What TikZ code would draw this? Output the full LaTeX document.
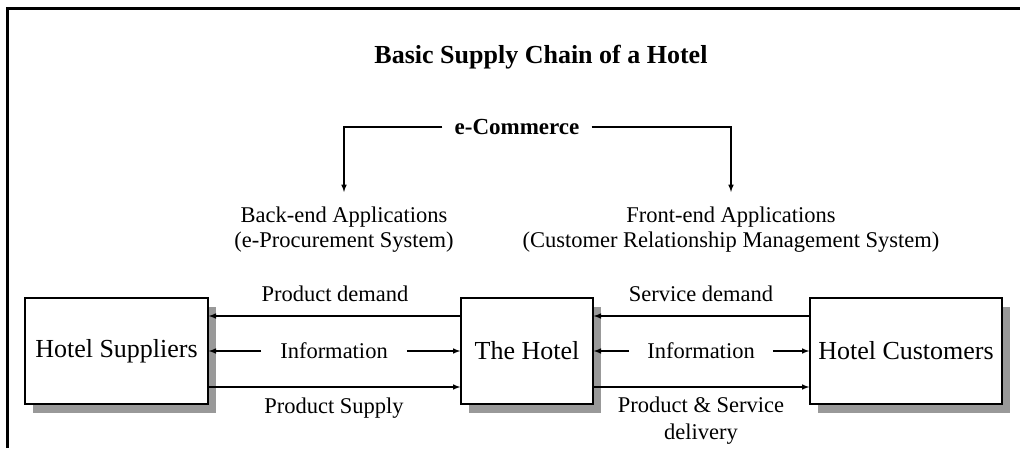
\documentclass[tikz,border=0pt]{standalone}
\usepackage{fontspec}
\setmainfont{Liberation Serif}
\usetikzlibrary{arrows}
\usetikzlibrary{shadows}
\usetikzlibrary{calc}
\pgfdeclarelayer{nodelayer}
\pgfdeclarelayer{edgelayer}
\pgfsetlayers{nodelayer,edgelayer,main}
\tikzset{box/.style={draw=black, line width=1.4pt, fill=white, inner sep=0pt,
minimum height=106pt, font=\fontsize{26}{30}\selectfont,
drop shadow={shadow xshift=8pt, shadow yshift=-9pt, fill=black!40, opacity=1}}}
\tikzstyle{none}=[inner sep=0pt]
\tikzstyle{lbl}=[inner sep=0pt, align=center, font=\fontsize{22.5}{25}\selectfont]
\tikzstyle{flow}=[line width=1.5pt, -latex]

\begin{document}
\begin{tikzpicture}[x=1pt, y=-1pt]
        \useasboundingbox (0, 0) rectangle (1020, 448);
        \draw [line width=3pt] (7, 448) -- (7, 8.5) -- (1020, 8.5);
        \begin{pgfonlayer}{nodelayer}
            \node [style=none, font=\bfseries\fontsize{26}{30}\selectfont] (0) at (541, 57) {Basic Supply Chain of a Hotel};
            \node [style=none, inner xsep=12pt, font=\bfseries\fontsize{23}{26}\selectfont] (1) at (517, 127) {e-Commerce};
            \node [style=lbl, anchor=north, inner ysep=15pt] (2) at (344, 192) {Back-end Applications\\(e-Procurement System)};
            \node [style=lbl, anchor=north, inner ysep=15pt] (3) at (731, 192) {Front-end Applications\\(Customer Relationship Management System)};
            \node [style=box, minimum width=183pt] (4) at (116.5, 351) {Hotel Suppliers};
            \node [style=box, minimum width=132pt] (5) at (527, 351) {The Hotel};
            \node [style=box, minimum width=192pt] (6) at (906, 351) {Hotel Customers};
            \node [style=lbl] (7) at (335, 294) {Product demand};
            \node [style=lbl, inner xsep=19pt] (8) at (334, 351) {Information};
            \node [style=lbl] (9) at (334, 408) {Product Supply};
            \node [style=lbl] (10) at (701, 294) {Service demand};
            \node [style=lbl, inner xsep=18pt] (11) at (701, 351) {Information};
            \node [style=lbl, font=\fontsize{22.5}{27}\selectfont] (12) at (701, 421) {Product \& Service\\delivery};
        \end{pgfonlayer}
        \begin{pgfonlayer}{edgelayer}
            \draw [style=flow] (1.west) -| (2.north);
            \draw [style=flow] (1.east) -| (3.north);
            \draw [style=flow] ([yshift=35pt]5.west) to ([yshift=35pt]4.east);
            \draw [style=flow] (8.west) to (4.east);
            \draw [style=flow] (8.east) to (5.west);
            \draw [style=flow] ([yshift=-36pt]4.east) to ([yshift=-36pt]5.west);
            \draw [style=flow] ([yshift=35pt]6.west) to ([yshift=35pt]5.east);
            \draw [style=flow] (11.west) to (5.east);
            \draw [style=flow] (11.east) to (6.west);
            \draw [style=flow] ([yshift=-36pt]5.east) to ([yshift=-36pt]6.west);
        \end{pgfonlayer}
    \end{tikzpicture}
\end{document}
